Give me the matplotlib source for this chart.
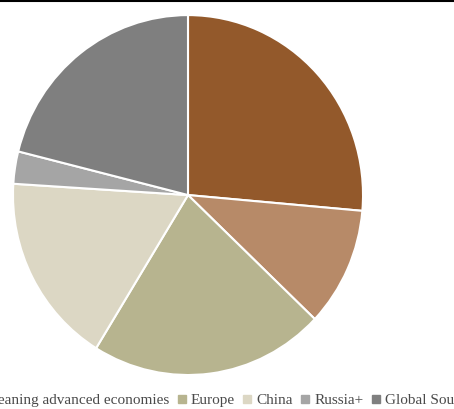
import matplotlib
matplotlib.use("Agg")
import matplotlib.pyplot as plt
from matplotlib.lines import Line2D

labels = ["US", "US-leaning advanced economies", "Europe", "China", "Russia+", "Global South"]
values = [26.4, 10.7, 21.7, 17.2, 2.9, 21.1]
colors = ["#93592b", "#b78a68", "#b7b48f", "#dcd7c4", "#a5a5a5", "#7f7f7f"]

fig = plt.figure(figsize=(4.54, 4.09), dpi=100)
ax = fig.add_axes([0.0286, 0.0831, 0.771, 0.880])
ax.pie(values, colors=colors, startangle=90, counterclock=False,
       wedgeprops=dict(edgecolor="white", linewidth=1.5))
ax.set_xlim(-1.0, 1.0)
ax.set_ylim(-1.0, 1.0)
ax.set_aspect("auto")
ax.axis("off")

handles = [Line2D([], [], marker="s", linestyle="none", markersize=5.5,
                  markerfacecolor=c, markeredgecolor=c) for c in colors]
fig.legend(handles, labels, loc="center", bbox_to_anchor=(0.42, 0.022), ncol=6,
           frameon=False, handlelength=0.5, handletextpad=0.35, columnspacing=0.55,
           prop=dict(family="Liberation Serif", size=11), labelcolor="#4a4a4a")

fig.add_artist(Line2D([0, 1], [0.998, 0.998], color="black", linewidth=1.5,
                      transform=fig.transFigure))
fig.savefig("out.png", dpi=100)
